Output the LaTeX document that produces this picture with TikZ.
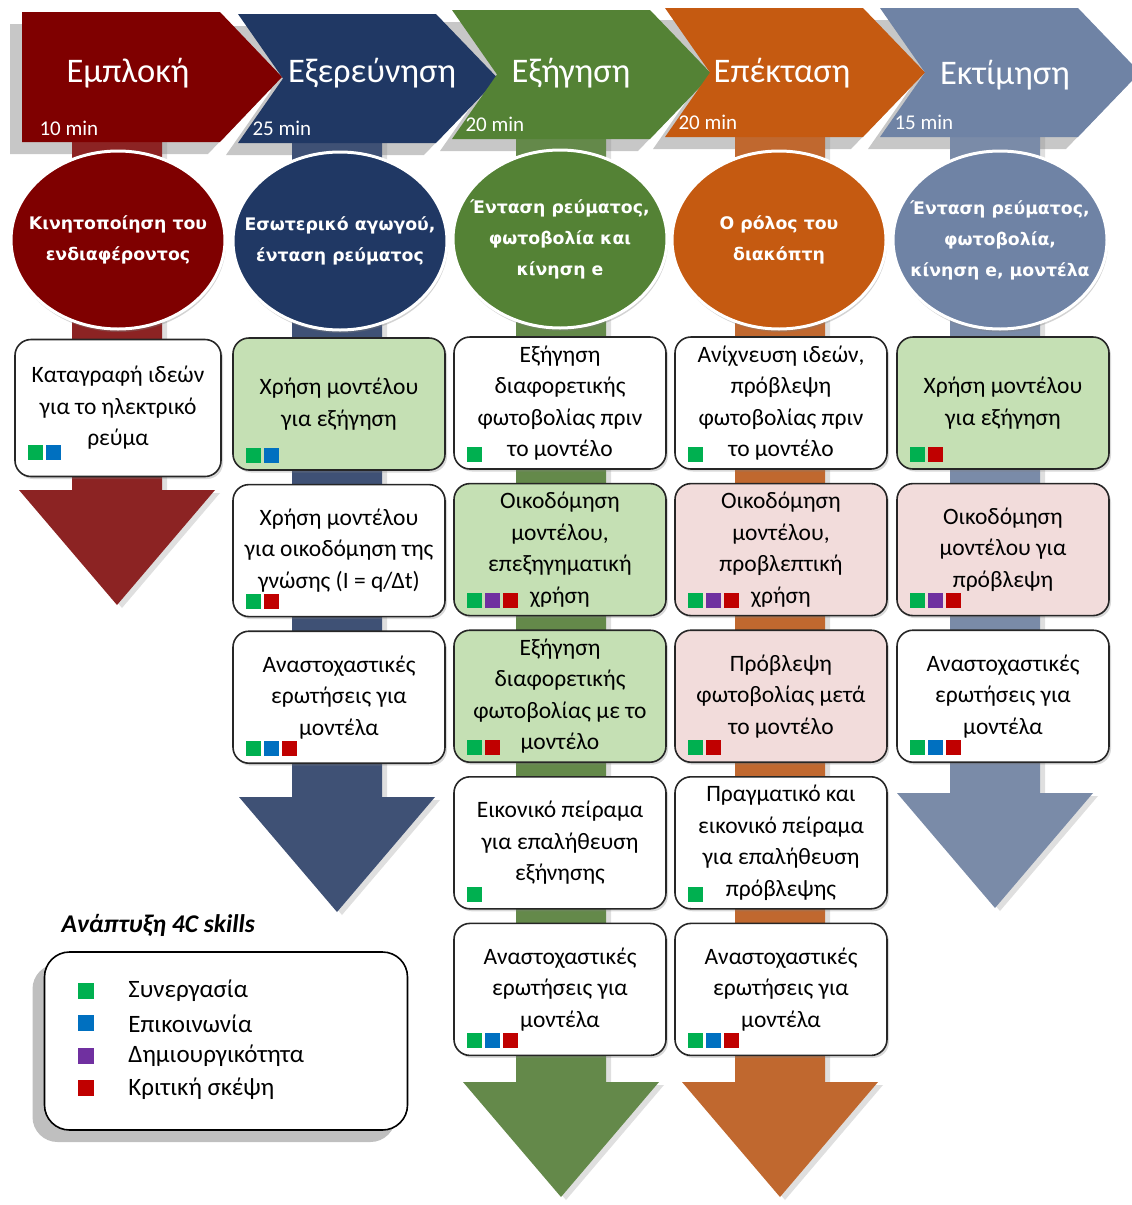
\documentclass[tikz,border=0pt]{standalone}
\usepackage{fontspec}
\setmainfont{Carlito}
\newfontfamily\circfont{DejaVu Sans}
\usetikzlibrary{shapes.geometric, % 椭圆
  positioning,                    % 相对地放置节点
  shadows}                        % 阴影

% 五个阶段的颜色
\definecolor{engage}{HTML}{7F0000}
\definecolor{explore}{HTML}{203864}
\definecolor{explain}{HTML}{548235}
\definecolor{elaborate}{HTML}{C55A11}
\definecolor{evaluate}{HTML}{6F83A5}
% 向下箭头的颜色
\definecolor{engageA}{HTML}{8C2323}
\definecolor{exploreA}{HTML}{3F5175}
\definecolor{explainA}{HTML}{64894A}
\definecolor{elaborateA}{HTML}{C0682F}
\definecolor{evaluateA}{HTML}{7A8BA8}
% 4C skills 的颜色
\definecolor{skgreen}{HTML}{00B050}
\definecolor{skblue}{HTML}{0070C0}
\definecolor{skpurple}{HTML}{7030A0}
\definecolor{skred}{HTML}{C00000}
\definecolor{lightgreen}{HTML}{C5E0B4}
\definecolor{lightpink}{HTML}{F2DCDB}

% 箭头形状: #2 左边, #3 上边, #4 下边, #5 凹口深度
\newcommand{\chevron}[5][]{\fill[#1] (#2,-#3) -- ({#2+198},-#3) -- ({#2+260},{-(#3+#4)/2})
  -- ({#2+198},-#4) -- (#2,-#4) -- ({#2+#5},{-(#3+#4)/2}) -- cycle;}
% 向下的粗箭头: #1 中心x, #2 箭头头部的y, #3 颜色
\newcommand{\phasearrow}[3]{\fill[#3,drop shadow={opacity=.25,shadow xshift=5pt,shadow yshift=-3pt}]
  ({#1-45},-125) -- ({#1+45},-125) -- ({#1+45},-#2) -- ({#1+98},-#2)
  -- (#1,{-#2-115}) -- ({#1-98},-#2) -- ({#1-45},-#2) -- cycle;}
% 小方块: #1 离底边的距离, #2 节点, #3 序号, #4 颜色
\newcommand{\sk}[4][8]{\fill[#4] ([shift={({#3*18+14},#1)}]#2.south west) rectangle ++(15,15);}

\begin{document}
\begin{tikzpicture}[x=1pt,y=1pt,node distance=13pt,
  % 定义了几个主要的style:
  {task}/.style={rectangle,rounded corners=16pt,draw=black!85,line width=1.6pt,fill=white,
    minimum width=212,minimum height=132,align=center,font=\fontsize{23.5}{31.5}\selectfont,
    drop shadow={opacity=.3,shadow xshift=2pt,shadow yshift=-2.5pt}},
  {green task}/.style={task,fill=lightgreen},
  {pink task}/.style={task,fill=lightpink},
  {topic}/.style={ellipse,draw=white,line width=3pt,minimum width=214,minimum height=178,inner sep=0pt,
    drop shadow={opacity=.35,shadow xshift=1pt,shadow yshift=-3pt}},
  {topic text}/.style={text=white,align=center,font=\circfont\bfseries\fontsize{17.3}{31}\selectfont},
  {phase}/.style={text=white,font=\fontsize{34.5}{40}\selectfont},
  {minutes}/.style={text=white,anchor=west,font=\fontsize{21}{24}\selectfont},
  {leg square}/.style={minimum size=16,inner sep=0pt},
  {leg text}/.style={font=\fontsize{25}{28}\selectfont,inner sep=0pt}]

  \useasboundingbox (0,0) rectangle (1132,-1205);
  \clip (0,0) rectangle (1132,-1205);

  % 阴影
  \chevron[fill=black!22,xshift=-12pt,yshift=-12pt]{22}{12}{142}{0}
  \chevron[fill=black!22,xshift=-12pt,yshift=-12pt]{238}{14}{143}{45}
  \chevron[fill=black!22,xshift=-12pt,yshift=-12pt]{452}{10}{139}{45}
  \chevron[fill=black!22,xshift=-12pt,yshift=-12pt]{665}{8}{137}{45}
  \chevron[fill=black!22,xshift=-12pt,yshift=-12pt]{880}{8}{137}{45}

  % 向下的箭头
  \phasearrow{117}{490}{engageA}
  \phasearrow{337}{797}{exploreA}
  \phasearrow{561}{1082}{explainA}
  \phasearrow{780}{1082}{elaborateA}
  \phasearrow{995}{793}{evaluateA}

  \chevron[fill=engage]{22}{12}{142}{0}
  \chevron[fill=explore]{238}{14}{143}{45}
  \chevron[fill=explain]{452}{10}{139}{45}
  \chevron[fill=elaborate]{665}{8}{137}{45}
  \chevron[fill=evaluate]{880}{8}{137}{45}

  \node [phase] (h1) at (128,-73) {Εμπλοκή};
  \node [phase] (h2) at (372,-73) {Εξερεύνηση};
  \node [phase] (h3) at (571,-73) {Εξήγηση};
  \node [phase] (h4) at (782,-73) {Επέκταση};
  \node [phase] (h5) at (1005,-75) {Εκτίμηση};

  \node [minutes] (m1) at (36,-128) {10 min};
  \node [minutes] (m2) at (249,-128) {25 min};
  \node [minutes] (m3) at (462,-124) {20 min};
  \node [minutes] (m4) at (675,-122) {20 min};
  \node [minutes] (m5) at (891,-122) {15 min};

  % 椭圆
  \node [topic,fill=engage] (t1) at (118,-240) {};
  \node [topic,fill=explore] (t2) at (340,-241) {};
  \node [topic,fill=explain] (t3) at (560,-239) {};
  \node [topic,fill=elaborate] (t4) at (779,-240) {};
  \node [topic,fill=evaluate] (t5) at (1000,-240) {};
  \node [topic text] (tt1) at (t1) {Κινητοποίηση του\\ενδιαφέροντος};
  \node [topic text] (tt2) at (t2) {Εσωτερικό αγωγού,\\ένταση ρεύματος};
  \node [topic text] (tt3) at (t3) {Ένταση ρεύματος,\\φωτοβολία και\\κίνηση e};
  \node [topic text] (tt4) at (t4) {Ο ρόλος του\\διακόπτη};
  \node [topic text] (tt5) at (t5) {Ένταση ρεύματος,\\φωτοβολία,\\κίνηση e, μοντέλα};

  % 第一列
  \node [task,minimum width=206,minimum height=137] (a1) at (118,-408) {Καταγραφή ιδεών\\για το ηλεκτρικό\\ρεύμα};
  \sk[17]{a1}{0}{skgreen}\sk[17]{a1}{1}{skblue}

  % 第二列
  \node [green task] (b1) at (339,-404) {Χρήση μοντέλου\\για εξήγηση};
  \node [task] (b2) [below=of b1] {Χρήση μοντέλου\\για οικοδόμηση της\\γνώσης (I = q/Δt)};
  \node [task] (b3) [below=of b2] {Αναστοχαστικές\\ερωτήσεις για\\μοντέλα};
  \sk{b1}{0}{skgreen}\sk{b1}{1}{skblue}
  \sk{b2}{0}{skgreen}\sk{b2}{1}{skred}
  \sk{b3}{0}{skgreen}\sk{b3}{1}{skblue}\sk{b3}{2}{skred}

  % 第三列
  \node [task] (c1) at (560,-403) {Εξήγηση\\διαφορετικής\\φωτοβολίας πριν\\το μοντέλο};
  \node [green task] (c2) [below=of c1] {Οικοδόμηση\\μοντέλου,\\επεξηγηματική\\χρήση};
  \node [green task] (c3) [below=of c2] {Εξήγηση\\διαφορετικής\\φωτοβολίας με το\\μοντέλο};
  \node [task] (c4) [below=of c3] {Εικονικό πείραμα\\για επαλήθευση\\εξήνησης};
  \node [task] (c5) [below=of c4] {Αναστοχαστικές\\ερωτήσεις για\\μοντέλα};
  \sk{c1}{0}{skgreen}
  \sk{c2}{0}{skgreen}\sk{c2}{1}{skpurple}\sk{c2}{2}{skred}
  \sk{c3}{0}{skgreen}\sk{c3}{1}{skred}
  \sk{c4}{0}{skgreen}
  \sk{c5}{0}{skgreen}\sk{c5}{1}{skblue}\sk{c5}{2}{skred}

  % 第四列
  \node [task] (d1) at (781,-403) {Ανίχνευση ιδεών,\\πρόβλεψη\\φωτοβολίας πριν\\το μοντέλο};
  \node [pink task] (d2) [below=of d1] {Οικοδόμηση\\μοντέλου,\\προβλεπτική\\χρήση};
  \node [pink task] (d3) [below=of d2] {Πρόβλεψη\\φωτοβολίας μετά\\το μοντέλο};
  \node [task] (d4) [below=of d3] {Πραγματικό και\\εικονικό πείραμα\\για επαλήθευση\\πρόβλεψης};
  \node [task] (d5) [below=of d4] {Αναστοχαστικές\\ερωτήσεις για\\μοντέλα};
  \sk{d1}{0}{skgreen}
  \sk{d2}{0}{skgreen}\sk{d2}{1}{skpurple}\sk{d2}{2}{skred}
  \sk{d3}{0}{skgreen}\sk{d3}{1}{skred}
  \sk{d4}{0}{skgreen}
  \sk{d5}{0}{skgreen}\sk{d5}{1}{skblue}\sk{d5}{2}{skred}

  % 第五列
  \node [green task] (e1) at (1003,-403) {Χρήση μοντέλου\\για εξήγηση};
  \node [pink task] (e2) [below=of e1] {Οικοδόμηση\\μοντέλου για\\πρόβλεψη};
  \node [task] (e3) [below=of e2] {Αναστοχαστικές\\ερωτήσεις για\\μοντέλα};
  \sk{e1}{0}{skgreen}\sk{e1}{1}{skred}
  \sk{e2}{0}{skgreen}\sk{e2}{1}{skpurple}\sk{e2}{2}{skred}
  \sk{e3}{0}{skgreen}\sk{e3}{1}{skblue}\sk{e3}{2}{skred}

  % 图例
  \node [anchor=west,font=\bfseries\itshape\fontsize{25.5}{28}\selectfont] (legtitle) at (58,-925) {Ανάπτυξη 4C skills};
  \node [draw,line width=1.6pt,fill=white,rounded corners=25pt,minimum width=363,minimum height=178,
    drop shadow={opacity=1,fill=black!25,shadow xshift=-12pt,shadow yshift=-12pt}] (legend) at (226,-1041) {};
  \node [leg square,fill=skgreen] (q1) at (86,-991) {};
  \node [leg square,fill=skblue] (q2) [below=16pt of q1] {};
  \node [leg square,fill=skpurple] (q3) [below=16pt of q2] {};
  \node [leg square,fill=skred] (q4) [below=16pt of q3] {};
  \node [leg text] (s1) [right=34pt of q1] {Συνεργασία};
  \node [leg text] (s2) [right=34pt of q2] {Επικοινωνία};
  \node [leg text] (s3) [right=34pt of q3] {Δημιουργικότητα};
  \node [leg text] (s4) [right=34pt of q4] {Κριτική σκέψη};

\end{tikzpicture}
\end{document}
